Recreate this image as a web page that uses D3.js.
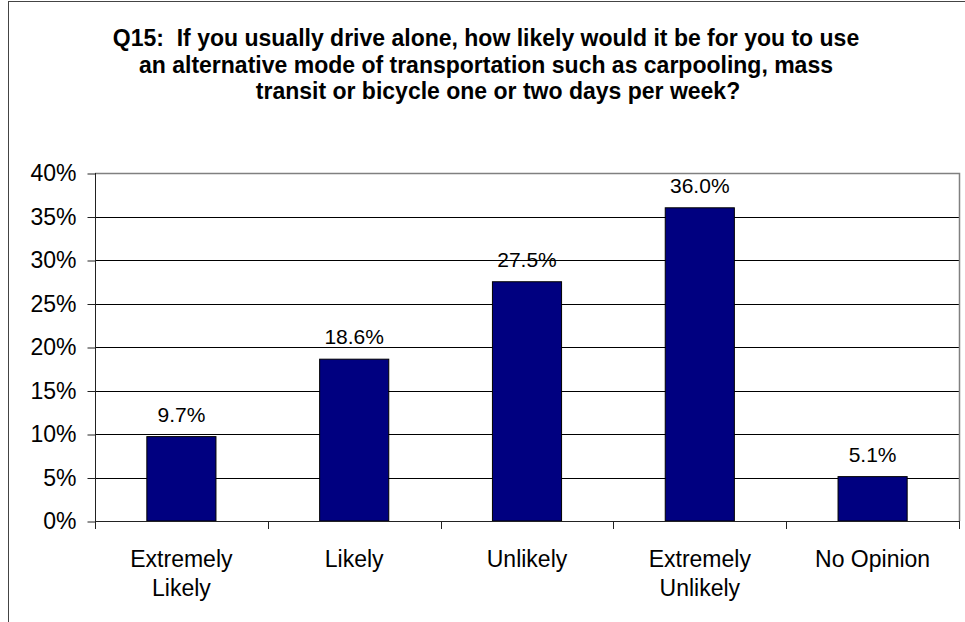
<!DOCTYPE html>
<html>
<head>
<meta charset="utf-8">
<script src="https://d3js.org/d3.v7.min.js"></script>
<style>
  body { margin: 0; background: #fff; }
  text { font-family: "Liberation Sans", Arial, sans-serif; fill: #000; }
</style>
</head>
<body>
<div id="chart"></div>
<script>

// data
var categories = ["Extremely Likely", "Likely", "Unlikely", "Extremely Unlikely", "No Opinion"];
var categoryLines = [["Extremely", "Likely"], ["Likely"], ["Unlikely"], ["Extremely", "Unlikely"], ["No Opinion"]];
var values = [9.7, 18.6, 27.5, 36.0, 5.1];
var yTicks = [0, 5, 10, 15, 20, 25, 30, 35, 40];
var titleLines = [
  "Q15:  If you usually drive alone, how likely would it be for you to use",
  "an alternative mode of transportation such as carpooling, mass",
  "transit or bicycle one or two days per week?"
];

var W = 965, H = 622;
var plot = {left: 95, right: 959, top: 173, bottom: 521};

var svg = d3.select("#chart").append("svg")
  .attr("width", W)
  .attr("height", H);

svg.append("rect")
  .attr("width", W).attr("height", H)
  .attr("fill", "#fff");

// chart border (runs off the right/bottom edge)
svg.append("rect")
  .attr("x", 8.5).attr("y", 1.5)
  .attr("width", W + 10).attr("height", H + 10)
  .attr("fill", "none")
  .attr("stroke", "#444")
  .attr("stroke-width", 1);

// title (last line sits a little right, as in the original wrap)
var titleX = [486, 486, 498];
svg.append("g").selectAll("text")
  .data(titleLines)
  .enter().append("text")
  .attr("x", function(d, i) { return titleX[i]; })
  .attr("y", function(d, i) { return 46 + i * 26.5; })
  .attr("text-anchor", "middle")
  .attr("font-size", "23px")
  .attr("font-weight", "bold")
  .style("white-space", "pre")
  .text(function(d) { return d; });

// scales
var x = d3.scaleBand()
  .domain(categories)
  .range([plot.left, plot.right])
  .paddingInner(0)
  .paddingOuter(0);

var y = d3.scaleLinear()
  .domain([0, 40])
  .range([plot.bottom, plot.top]);

// gridlines
svg.append("g").selectAll("line")
  .data(yTicks.filter(function(d) { return d > 0 && d < 40; }))
  .enter().append("line")
  .attr("x1", plot.left).attr("x2", plot.right)
  .attr("y1", function(d) { return Math.round(y(d)) + 0.5; })
  .attr("y2", function(d) { return Math.round(y(d)) + 0.5; })
  .attr("stroke", "#000")
  .attr("stroke-width", 1);

// plot area top/right border
svg.append("path")
  .attr("d", "M" + plot.left + "," + (plot.top + 0.5) + "H" + (plot.right + 0.5) + "V" + plot.bottom)
  .attr("fill", "none")
  .attr("stroke", "#808080")
  .attr("stroke-width", 1.5);

// bars
var barW = x.bandwidth() * 0.4;
svg.append("g").selectAll("rect")
  .data(values)
  .enter().append("rect")
  .attr("x", function(d, i) { return x(categories[i]) + (x.bandwidth() - barW) / 2; })
  .attr("y", function(d) { return y(d); })
  .attr("width", barW)
  .attr("height", function(d) { return y(0) - y(d); })
  .attr("fill", "#000080")
  .attr("stroke", "#000")
  .attr("stroke-width", 1);

// value labels
svg.append("g").selectAll("text")
  .data(values)
  .enter().append("text")
  .attr("x", function(d, i) { return x(categories[i]) + x.bandwidth() / 2; })
  .attr("y", function(d) { return y(d) - 15; })
  .attr("text-anchor", "middle")
  .attr("font-size", "21px")
  .text(function(d) { return d.toFixed(1) + "%"; });

// y axis
var yAxis = svg.append("g")
  .attr("transform", "translate(" + (plot.left + 0.5) + ",0.5)")
  .call(d3.axisLeft(y).tickValues(yTicks).tickSize(8).tickPadding(11)
    .tickFormat(function(d) { return d + "%"; }));
yAxis.select(".domain").attr("d", "M0," + (plot.top - 0.5) + "V" + (plot.bottom + 7)).attr("stroke", "#222");
yAxis.selectAll(".tick line").attr("stroke", "#222");
yAxis.selectAll(".tick text")
  .attr("font-family", "Liberation Sans, Arial, sans-serif")
  .attr("font-size", "23px")
  .attr("fill", "#000");

// x axis line and boundary ticks
var bounds = categories.map(function(c) { return x(c); }).concat([plot.right]);
svg.append("line")
  .attr("x1", plot.left).attr("x2", plot.right)
  .attr("y1", plot.bottom + 0.5).attr("y2", plot.bottom + 0.5)
  .attr("stroke", "#222");
svg.append("g").selectAll("line")
  .data(bounds)
  .enter().append("line")
  .attr("x1", function(d) { return Math.round(d) + 0.5; })
  .attr("x2", function(d) { return Math.round(d) + 0.5; })
  .attr("y1", plot.bottom)
  .attr("y2", plot.bottom + 8)
  .attr("stroke", "#222");

// category labels
var catG = svg.append("g").selectAll("text")
  .data(categoryLines)
  .enter().append("text")
  .attr("text-anchor", "middle")
  .attr("font-size", "23px")
  .attr("x", function(d, i) { return x(categories[i]) + x.bandwidth() / 2; })
  .attr("y", 567);
catG.selectAll("tspan")
  .data(function(d) { return d; })
  .enter().append("tspan")
  .attr("x", function() { return d3.select(this.parentNode).attr("x"); })
  .attr("dy", function(d, i) { return i === 0 ? 0 : 29; })
  .text(function(d) { return d; });

</script>
</body>
</html>
